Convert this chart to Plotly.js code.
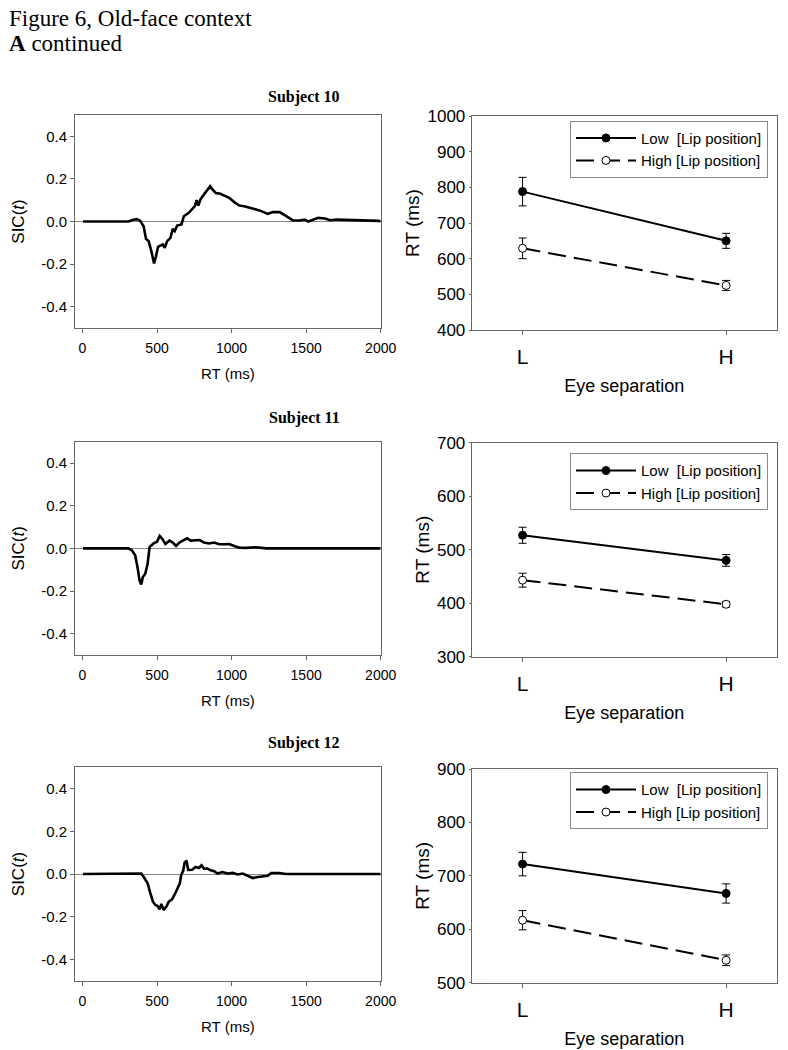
<!DOCTYPE html>
<html>
<head>
<meta charset="utf-8">
<script src="https://cdn.plot.ly/plotly-3.0.1.min.js"></script>
<style>
  html, body { margin: 0; padding: 0; background: #fff; }
  #graph { width: 788px; height: 1050px; }
</style>
</head>
<body>
<div id="graph"></div>
<script>
// SIC(t) curves
const sicTime10 = [4, 308, 342, 364, 387, 410, 426, 444, 462, 480, 493, 507, 522, 538, 552, 568, 590, 606, 619, 635, 664, 680, 713, 736, 754, 766, 777, 793, 815, 838, 856, 876, 894, 921, 950, 984, 1018, 1052, 1085, 1119, 1153, 1187, 1221, 1243, 1277, 1322, 1367, 1412, 1457, 1491, 1514, 1547, 1581, 1626, 1660, 1705, 1795, 1863, 1930, 1986, 2000];
const sicValue10 = [0, 0, 0.008, 0.011, 0.003, -0.022, -0.081, -0.092, -0.139, -0.197, -0.163, -0.119, -0.113, -0.108, -0.123, -0.092, -0.077, -0.034, -0.045, -0.019, -0.014, 0.025, 0.041, 0.056, 0.072, 0.1, 0.075, 0.106, 0.127, 0.15, 0.166, 0.147, 0.134, 0.131, 0.123, 0.111, 0.091, 0.075, 0.072, 0.064, 0.059, 0.052, 0.041, 0.036, 0.044, 0.044, 0.025, 0.005, 0.005, 0.009, 0, 0.009, 0.017, 0.014, 0.006, 0.009, 0.008, 0.006, 0.005, 0.003, 0];

const sicTime11 = [4, 308, 331, 354, 369, 383, 394, 405, 421, 437, 450, 466, 477, 500, 518, 538, 556, 583, 606, 628, 650, 673, 702, 725, 754, 786, 815, 849, 883, 916, 950, 984, 1018, 1052, 1097, 1164, 1232, 1311, 1322, 1525, 1648, 1660, 2000];
const sicValue11 = [0, 0, -0.009, -0.033, -0.088, -0.15, -0.169, -0.134, -0.119, -0.072, 0.006, 0.019, 0.023, 0.031, 0.058, 0.042, 0.02, 0.036, 0.027, 0.011, 0.027, 0.036, 0.047, 0.036, 0.039, 0.039, 0.027, 0.023, 0.027, 0.019, 0.019, 0.02, 0.011, 0.003, 0.002, 0.005, 0, 0, -0.003, -0.003, -0.003, 0, 0];

const sicTime12 = [4, 376, 394, 410, 437, 455, 473, 489, 504, 518, 529, 545, 563, 579, 601, 624, 640, 653, 662, 676, 685, 698, 709, 736, 758, 781, 799, 815, 838, 860, 883, 905, 939, 973, 1007, 1041, 1074, 1108, 1142, 1176, 1209, 1243, 1266, 1322, 1363, 2000];
const sicValue12 = [0, 0, 0.002, -0.013, -0.044, -0.09, -0.13, -0.145, -0.15, -0.166, -0.14, -0.169, -0.153, -0.13, -0.119, -0.088, -0.059, -0.044, -0.005, 0.016, 0.053, 0.063, 0.019, 0.02, 0.033, 0.028, 0.041, 0.025, 0.025, 0.017, 0.013, 0.002, 0.009, 0.002, 0.005, -0.002, 0.002, -0.009, -0.019, -0.014, -0.011, -0.008, 0.005, 0.005, 0, 0];

const sicTicks = [-0.4, -0.2, 0, 0.2, 0.4];
const sicTickText = ['-0.4', '-0.2', '0.0', '0.2', '0.4'];
const rtTicks = [0, 500, 1000, 1500, 2000];

// mean RT with error bars, right panels
const eyeSep = [1, 2];
const eyeLabels = ['L', 'H'];
const rtLow10 = [788, 650], errLow10 = [40, 21];
const rtHigh10 = [629, 525], errHigh10 = [29, 14];
const rtLow11 = [527, 480], errLow11 = [15, 11];
const rtHigh11 = [443, 398], errHigh11 = [13, 5];
const rtLow12 = [722, 667], errLow12 = [22, 18];
const rtHigh12 = [617, 542], errHigh12 = [18, 10];

const subjects = ['Subject 10', 'Subject 11', 'Subject 12'];
const rtRanges = [[400, 1000], [300, 700], [500, 900]];

document.addEventListener('DOMContentLoaded', function() {
    const W = 788, H = 1050;
    const px = v => v / W;
    const py = v => 1 - v / H;
    const sans = 'Liberation Sans, Arial, sans-serif';
    const serif = 'Liberation Serif, Times New Roman, serif';

    // pixel boxes of the panels: [top, bottom]
    const leftRows = [[115, 328], [441.7, 655], [767.3, 980.7]];
    const rightRows = [[116, 330], [442.7, 656.7], [769, 982.7]];
    const legendTops = [120.7, 453.3, 772.3];
    const titleY = [97, 418, 743];

    const sicData = [
        [sicTime10, sicValue10],
        [sicTime11, sicValue11],
        [sicTime12, sicValue12]
    ];
    const rtData = [
        [rtLow10, errLow10, rtHigh10, errHigh10],
        [rtLow11, errLow11, rtHigh11, errHigh11],
        [rtLow12, errLow12, rtHigh12, errHigh12]
    ];

    const traces = [];
    const layout = {
        width: W,
        height: H,
        margin: { l: 0, r: 0, t: 0, b: 0 },
        paper_bgcolor: '#fff',
        plot_bgcolor: '#fff',
        font: { family: sans, color: '#000' },
        showlegend: true,
        annotations: [
            {
                text: 'Figure 6, Old-face context', xref: 'paper', yref: 'paper',
                x: px(7), y: py(19), xanchor: 'left', yanchor: 'middle', showarrow: false,
                font: { family: serif, size: 23, color: '#000' }
            },
            {
                text: '<b>A</b> continued', xref: 'paper', yref: 'paper',
                x: px(7), y: py(44), xanchor: 'left', yanchor: 'middle', showarrow: false,
                font: { family: serif, size: 23, color: '#000' }
            }
        ]
    };

    for (let i = 0; i < 3; i++) {
        const nL = 2 * i + 1, nR = 2 * i + 2;
        const xl = 'x' + nL, yl = 'y' + nL, xr = 'x' + nR, yr = 'y' + nR;
        const legendId = i === 0 ? 'legend' : 'legend' + (i + 1);

        traces.push({
            type: 'scatter', mode: 'lines',
            x: sicData[i][0], y: sicData[i][1],
            xaxis: xl, yaxis: yl,
            line: { color: '#000', width: 2.6 },
            showlegend: false, hoverinfo: 'skip'
        });

        const d = rtData[i];
        traces.push({
            type: 'scatter', mode: 'lines+markers',
            name: 'Low\u00a0\u00a0[Lip position]',
            x: eyeSep, y: d[0],
            error_y: { type: 'data', array: d[1], color: '#000', thickness: 1, width: 4 },
            xaxis: xr, yaxis: yr, legend: legendId,
            line: { color: '#000', width: 2 },
            marker: { color: '#000', size: 8, line: { color: '#000', width: 1 } }
        });
        traces.push({
            type: 'scatter', mode: 'lines+markers',
            name: 'High [Lip position]',
            x: eyeSep, y: d[2],
            error_y: { type: 'data', array: d[3], color: '#000', thickness: 1, width: 4 },
            xaxis: xr, yaxis: yr, legend: legendId,
            line: { color: '#000', width: 2, dash: '18px,8px' },
            marker: { color: '#fff', size: 8, line: { color: '#000', width: 1 } }
        });

        const axisBase = {
            showline: true, mirror: true, linecolor: '#666', linewidth: 1,
            showgrid: false, ticks: 'outside', tickcolor: '#666', ticklen: 4
        };

        layout['xaxis' + nL] = Object.assign({}, axisBase, {
            domain: [px(75), px(380.7)], anchor: yl,
            range: [-50, 2000], tickvals: rtTicks, zeroline: false,
            tickfont: { size: 14 }, ticklabelstandoff: 3,
            title: { text: 'RT (ms)', font: { size: 15 }, standoff: 13 }
        });
        layout['yaxis' + nL] = Object.assign({}, axisBase, {
            domain: [py(leftRows[i][1]), py(leftRows[i][0])], anchor: xl,
            range: [-0.5, 0.5], tickvals: sicTicks, ticktext: sicTickText,
            zeroline: true, zerolinecolor: '#888', zerolinewidth: 1,
            tickfont: { size: 15 },
            title: { text: 'SIC(<i>t</i>)', font: { size: 17 }, standoff: 12 }
        });
        layout['xaxis' + nR] = Object.assign({}, axisBase, {
            domain: [px(471.7), px(777)], anchor: yr,
            range: [0.75, 2.25], tickvals: eyeSep, ticktext: eyeLabels, zeroline: false,
            tickfont: { size: 21 }, ticklabelstandoff: 4,
            title: { text: 'Eye separation', font: { size: 18 }, standoff: 12 }
        });
        layout['yaxis' + nR] = Object.assign({}, axisBase, {
            domain: [py(rightRows[i][1]), py(rightRows[i][0])], anchor: xr,
            range: rtRanges[i], dtick: 100, zeroline: false, ticklen: 2,
            tickfont: { size: 17 },
            title: { text: 'RT (ms)', font: { size: 19 }, standoff: 2 }
        });

        layout[legendId] = {
            x: px(570), y: py(legendTops[i]), xanchor: 'left', yanchor: 'top',
            bgcolor: '#fff', bordercolor: '#888', borderwidth: 1,
            font: { size: 15, color: '#000' }, tracegroupgap: 0, itemwidth: 60
        };

        layout.annotations.push({
            text: '<b>' + subjects[i] + '</b>', xref: 'paper', yref: 'paper',
            x: px(304), y: py(titleY[i]), xanchor: 'center', yanchor: 'middle', showarrow: false,
            font: { family: serif, size: 16, color: '#000' }
        });
    }

    Plotly.newPlot('graph', traces, layout, { displayModeBar: false, staticPlot: true });
});
</script>
</body>
</html>
